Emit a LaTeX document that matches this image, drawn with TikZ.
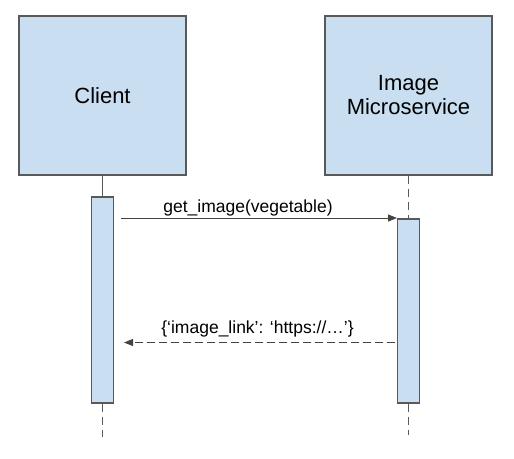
\documentclass[tikz,border=0pt]{standalone}
\usepackage{fontspec}
\setmainfont{Liberation Sans}
\usepackage{xcolor}
\usetikzlibrary{arrows.meta}
\definecolor{boxfill}{RGB}{201,222,240}
\definecolor{boxline}{RGB}{89,89,89}
\definecolor{msgline}{RGB}{67,67,67}
\tikzset{
	actor/.style={draw=boxline, fill=boxfill, line width=1.2pt, minimum width=167pt, minimum height=159pt, align=center, font=\fontsize{22}{24}\selectfont},
	actbar/.style={draw=boxline, fill=boxfill, line width=1.2pt, minimum width=22pt, inner sep=0pt},
	lifeline/.style={draw=boxline, line width=1.2pt, dash pattern=on 8pt off 5pt},
	msg/.style={draw=msgline, line width=1pt, -{Triangle[length=9pt,width=7pt]}},
	reply/.style={msg, dash pattern=on 8pt off 4pt},
	msglabel/.style={font=\fontsize{17.5}{20}\selectfont, inner sep=0pt}
}

\begin{document}
\begin{tikzpicture}[x=1pt,y=-1pt]
		\useasboundingbox (0,0) rectangle (514,458);
		
		% participants
		\node[actor] (client) at (102.5,95.5) {Client};
		\node[actor] (imgsvc) at (408.5,95.5) {Image\\Microservice};
		
		% activation bars
		\node[actbar, minimum height=206pt] (clientbar) at (102.5,300) {};
		\node[actbar, minimum height=184pt] (imgbar) at (408.5,311) {};
		
		% lifelines
		\coordinate (clientend) at (102.5,437);
		\coordinate (imgend) at (408.5,435);
		\draw[draw=boxline, line width=1.2pt] (client.south) -- (clientbar.north);
		\draw[lifeline] (imgsvc.south) -- (imgbar.north);
		\draw[lifeline] (clientbar.south) -- (clientend);
		\draw[lifeline] (imgbar.south) -- (imgend);
		
		% messages
		\coordinate (callstart) at (121,218);
		\coordinate (callend) at (397,218);
		\coordinate (retstart) at (395,342.5);
		\coordinate (retend) at (124,342.5);
		\draw[msg] (callstart) -- (callend);
		\draw[reply] (retstart) -- (retend);
		\node[msglabel, anchor=base] (calllabel) at (248,212) {get\_image(vegetable)};
		\node[msglabel, anchor=base] (retlabel) at (257.5,333) {\{‘image\_link’: ‘https://…’\}};
		
		\end{tikzpicture}
\end{document}
